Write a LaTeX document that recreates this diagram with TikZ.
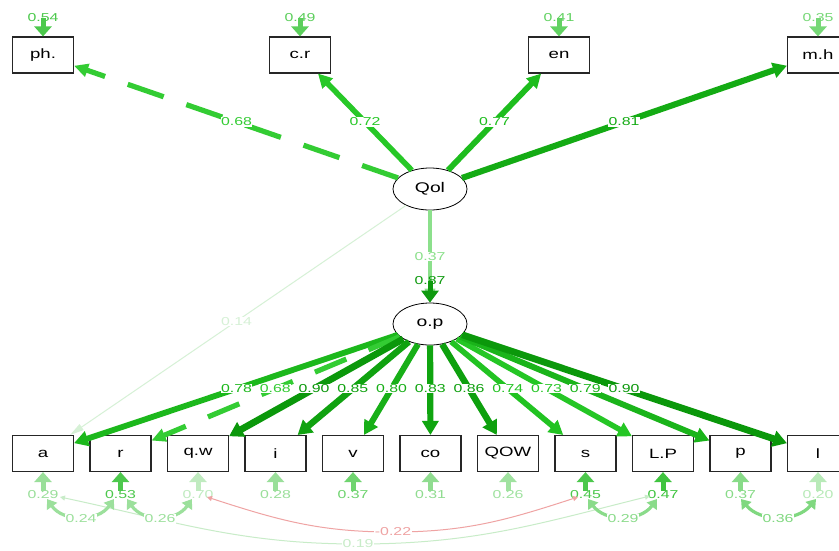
\documentclass[tikz,border=0pt]{standalone}
\usepackage{fontspec}
\setmainfont{Liberation Sans}[FakeStretch=1.38]
\usetikzlibrary{arrows.meta,shapes.geometric,calc}
\definecolor{g90}{HTML}{0B980B}
\definecolor{g86}{HTML}{0EA00E}
\definecolor{g85}{HTML}{10A210}
\definecolor{g83}{HTML}{10A510}
\definecolor{g81}{HTML}{14AB14}
\definecolor{g80}{HTML}{18AF18}
\definecolor{g79}{HTML}{1AB41A}
\definecolor{g78}{HTML}{1CB81C}
\definecolor{g77}{HTML}{1EBD1E}
\definecolor{g74}{HTML}{22C322}
\definecolor{g73}{HTML}{25C625}
\definecolor{g72}{HTML}{27C827}
\definecolor{g68}{HTML}{33CC33}
\definecolor{g37}{HTML}{8CE08C}
\definecolor{g14}{HTML}{D6F1D6}
% residual colours
\definecolor{r54}{HTML}{4CC94C}
\definecolor{r49}{HTML}{5CCF5C}
\definecolor{r41}{HTML}{62D262}
\definecolor{r35}{HTML}{77D877}
\definecolor{r29}{HTML}{9ADF9A}
\definecolor{r53}{HTML}{4DC84D}
\definecolor{r70}{HTML}{C0EBC0}
\definecolor{r28}{HTML}{9ADF9A}
\definecolor{r37v}{HTML}{6FD46F}
\definecolor{r31}{HTML}{90DC90}
\definecolor{r26}{HTML}{A0E2A0}
\definecolor{r45}{HTML}{4CC84C}
\definecolor{r47}{HTML}{3FC43F}
\definecolor{r37p}{HTML}{88DB88}
\definecolor{r20}{HTML}{B8EAB8}
\definecolor{r87}{HTML}{0F9A0F}
% covariance colours
\definecolor{c24}{HTML}{9CE09C}
\definecolor{c29}{HTML}{8ADB8A}
\definecolor{c36}{HTML}{80D880}
\definecolor{c19}{HTML}{C8ECC8}
\definecolor{cneg}{HTML}{EFA3A3}
\begin{document}
\begin{tikzpicture}[x=1pt,y=-1pt,
  obs/.style={draw=black!85, line width=1.1pt, minimum width=61pt, minimum height=36pt, inner sep=0pt, fill=white, font=\fontsize{13.5}{13.5}\selectfont},
  lat/.style={ellipse, draw=black, line width=0.8pt, minimum width=74pt, minimum height=42pt, inner sep=0pt, fill=white, font=\fontsize{14}{14}\selectfont},
  elab/.style={fill=white, inner sep=0.5pt, font=\fontsize{11.5}{11.5}\selectfont, text=#1},
  rlab/.style={inner sep=0pt, font=\fontsize{11.5}{11.5}\selectfont, text=#1},
  ed/.style n args={3}{draw=#1, line width=#2pt, -{Triangle[length=14pt,width=#3pt]}},
  res/.style={draw=#1, line width=5pt, -{Triangle[length=10pt,width=17pt]}},
  cov/.style n args={2}{draw=#1, line width=#2pt, {Triangle[length=9pt,width=12pt]}-{Triangle[length=9pt,width=12pt]}},
  thincov/.style={draw=#1, line width=1pt, {Triangle[length=5pt,width=5pt]}-{Triangle[length=5pt,width=5pt]}},
]
\clip (0,0) rectangle (839,550);
\fill[white] (0,0) rectangle (839,550);

% latent nodes
\node[lat] (Qol) at (430,189) {Qol};
\node[lat] (op) at (430,324) {o.p};

% top indicators
\node[obs] (ph) at (43,55) {ph.};
\node[obs] (cr) at (300,55) {c.r};
\node[obs] (en) at (559,55) {en};
\node[obs] (mh) at (818,55) {m.h};

% bottom indicators
\node[obs] (a) at (43,453.5) {a};
\node[obs] (r) at (120.5,453.5) {r};
\node[obs] (qw) at (198,453.5) {q.w};
\node[obs] (i) at (275.5,453.5) {i};
\node[obs] (v) at (353,453.5) {v};
\node[obs] (co) at (430.5,453.5) {co};
\node[obs] (QOW) at (508,453.5) {QOW};
\node[obs] (s) at (585.5,453.5) {s};
\node[obs] (LP) at (663,453.5) {L.P};
\node[obs] (p) at (740.5,453.5) {p};
\node[obs] (l) at (818,453.5) {l};

% loadings of Qol
\draw[ed={g68}{5.2}{13}, dash pattern=on 38pt off 24pt] (Qol) -- (ph);
\draw[ed={g72}{5.5}{14}] (Qol) -- (cr);
\draw[ed={g77}{5.8}{14}] (Qol) -- (en);
\draw[ed={g81}{6.1}{15}] (Qol) -- (mh);
\draw[ed={g14}{1}{7}] (Qol) -- (a);
\draw[ed={g37}{3.2}{10}] (Qol) -- (op);

% loadings of o.p
\draw[ed={g78}{5.8}{15}] (op) -- (a);
\draw[ed={g68}{5.2}{13}, dash pattern=on 34pt off 24pt] (op) -- (r);
\draw[ed={g90}{6.8}{16}] (op) -- (qw);
\draw[ed={g85}{6.4}{16}] (op) -- (i);
\draw[ed={g80}{6}{15}] (op) -- (v);
\draw[ed={g83}{6.2}{16}] (op) -- (co);
\draw[ed={g86}{6.5}{16}] (op) -- (QOW);
\draw[ed={g74}{5.6}{15}] (op) -- (s);
\draw[ed={g73}{5.5}{15}] (op) -- (LP);
\draw[ed={g79}{5.9}{15}] (op) -- (p);
\draw[ed={g90}{6.8}{16}] (op) -- (l);

% residual of o.p
\node[rlab=r87] (eop) at (430,281) {0.87};
\draw[draw=r87, line width=5pt, -{Triangle[length=12pt,width=17pt]}] (eop.center) -- (op);

% top residuals
\node[rlab=r54] (eph) at (43,18) {0.54};
\node[rlab=r49] (ecr) at (300,18) {0.49};
\node[rlab=r41] (een) at (559,18) {0.41};
\node[rlab=r35] (emh) at (818,18) {0.35};
\draw[res=r54] (eph.center) -- (ph);
\draw[res=r49] (ecr.center) -- (cr);
\draw[res=r41] (een.center) -- (en);
\draw[res=r35] (emh.center) -- (mh);

% bottom residuals
\node[rlab=r29] (ea) at (43,495) {0.29};
\node[rlab=r53] (er) at (120.5,495) {0.53};
\node[rlab=r70] (eqw) at (198,495) {0.70};
\node[rlab=r28] (ei) at (275.5,495) {0.28};
\node[rlab=r37v] (ev) at (353,495) {0.37};
\node[rlab=r31] (eco) at (430.5,495) {0.31};
\node[rlab=r26] (eQOW) at (508,495) {0.26};
\node[rlab=r45] (es) at (585.5,495) {0.45};
\node[rlab=r47] (eLP) at (663,495) {0.47};
\node[rlab=r37p] (ep) at (740.5,495) {0.37};
\node[rlab=r20] (el) at (818,495) {0.20};
\foreach \n/\c in {a/r29,r/r53,qw/r70,i/r28,v/r37v,co/r31,QOW/r26,s/r45,LP/r47,p/r37p,l/r20}
  \draw[res=\c] (e\n.north) -- (\n);

% covariance end points
\coordinate (ca1) at (47,499);
\coordinate (cr1) at (114,499);
\coordinate (cr2) at (127,499);
\coordinate (cq1) at (192,499);
\coordinate (cq2) at (207,497);
\coordinate (cs1) at (578,497);
\coordinate (cs2) at (588,499);
\coordinate (cl1) at (657,499);
\coordinate (ca2) at (60,497);
\coordinate (cl2) at (650,496);
\coordinate (cp1) at (741,499);
\coordinate (cll) at (816,499);
\coordinate (m19) at (358,544);
\coordinate (m22) at (393,532);

\draw[thincov=c19] (ca2) to[out=-12,in=180] (m19) to[out=0,in=-166] (cl2);
\draw[thincov=cneg] (cq2) to[out=-18,in=180] (m22) to[out=0,in=-162] (cs1);
\draw[cov={c24}{3.2}] (ca1) .. controls (63,522) and (98,522) .. (cr1);
\draw[cov={c24}{3.2}] (cr2) .. controls (143,522) and (176,522) .. (cq1);
\draw[cov={c29}{3.2}] (cs2) .. controls (605,522) and (640,522) .. (cl1);
\draw[cov={c36}{3.2}] (cp1) .. controls (760,522) and (797,522) .. (cll);

% edge labels
\node[elab=g68] (l1) at ($(Qol)!0.5!(ph)$) {0.68};
\node[elab=g72] (l2) at ($(Qol)!0.5!(cr)$) {0.72};
\node[elab=g77] (l3) at ($(Qol)!0.5!(en)$) {0.77};
\node[elab=g81] (l4) at ($(Qol)!0.5!(mh)$) {0.81};
\node[elab=g14] (l5) at ($(Qol)!0.5!(a)$) {0.14};
\node[elab=g37] (l6) at ($(Qol)!0.5!(op)$) {0.37};
\node[elab=g78] (m1) at ($(op)!0.5!(a)$) {0.78};
\node[elab=g68] (m2) at ($(op)!0.5!(r)$) {0.68};
\node[elab=g90] (m3) at ($(op)!0.5!(qw)$) {0.90};
\node[elab=g85] (m4) at ($(op)!0.5!(i)$) {0.85};
\node[elab=g80] (m5) at ($(op)!0.5!(v)$) {0.80};
\node[elab=g83] (m6) at ($(op)!0.5!(co)$) {0.83};
\node[elab=g86] (m7) at ($(op)!0.5!(QOW)$) {0.86};
\node[elab=g74] (m8) at ($(op)!0.5!(s)$) {0.74};
\node[elab=g73] (m9) at ($(op)!0.5!(LP)$) {0.73};
\node[elab=g79] (m10) at ($(op)!0.5!(p)$) {0.79};
\node[elab=g90] (m11) at ($(op)!0.5!(l)$) {0.90};

% covariance labels
\node[elab=c24] (k1) at (81,519) {0.24};
\node[elab=c24] (k2) at (160,519) {0.26};
\node[elab=c29] (k3) at (623,519) {0.29};
\node[elab=c36] (k4) at (778,519) {0.36};
\node[elab=c19] (k5) at (m19) {0.19};
\node[elab=cneg] (k6) at (m22) {-0.22};
\end{tikzpicture}
\end{document}
